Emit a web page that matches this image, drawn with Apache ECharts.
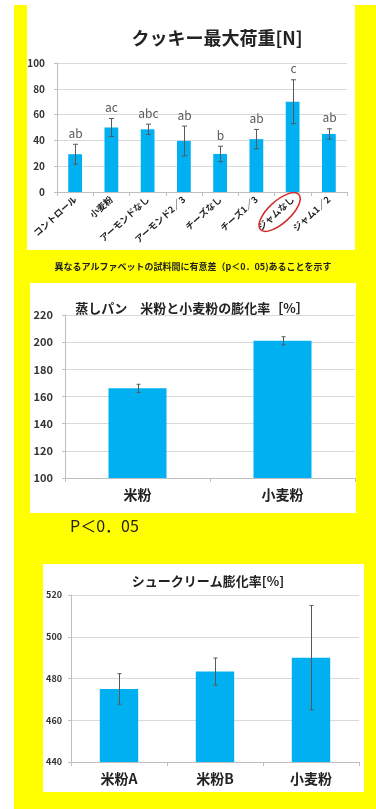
<!DOCTYPE html>
<html>
<head>
<meta charset="utf-8">
<script src="https://cdn.jsdelivr.net/npm/echarts@6/dist/echarts.min.js"></script>
<style>
html, body { margin: 0; padding: 0; background: #ffffff; }
#c { width: 376px; height: 809px; }
</style>
</head>
<body>
<div id="c"></div>
<script>
// クッキー最大荷重 [N]
const cookieCats = ['コントロール', '小麦粉', 'アーモンドなし', 'アーモンド2／3', 'チーズなし', 'チーズ1／3', 'ジャムなし', 'ジャム1／2'];
const cookieLoad = [29.3, 50, 48.6, 39.6, 29.5, 41, 70, 45];
const cookieErr = [7.7, 7, 4, 11.5, 6, 7.5, 17, 4];
const cookieGroups = ['ab', 'ac', 'abc', 'ab', 'b', 'ab', 'c', 'ab'];
const cookieTicks = [0, 20, 40, 60, 80, 100];

// 蒸しパン 膨化率 [%]
const panCats = ['米粉', '小麦粉'];
const panRate = [166, 201];
const panErr = [3, 3];
const panTicks = [100, 120, 140, 160, 180, 200, 220];

// シュークリーム 膨化率 [%]
const creamCats = ['米粉A', '米粉B', '小麦粉'];
const creamRate = [475, 483.3, 490];
const creamErr = [7.3, 6.5, 25];
const creamTicks = [440, 460, 480, 500, 520];

const FONT = '"Noto Sans CJK JP", "Noto Sans", sans-serif';
const BAR = '#00b0f0';
const GRID_LINE = '#d9d9d9';
const AXIS_LINE = '#bfbfbf';

function errorBars(axisIdx, values, errs, cap, letters) {
  return {
    type: 'custom',
    xAxisIndex: axisIdx,
    yAxisIndex: axisIdx,
    z: 5,
    silent: true,
    data: values.map((v, i) => [i, v - errs[i], v + errs[i]]),
    renderItem: (params, api) => {
      const hi = api.coord([api.value(0), api.value(2)]);
      const lo = api.coord([api.value(0), api.value(1)]);
      const x = Math.round(hi[0]) + 0.5;
      const st = { stroke: '#595959', lineWidth: 1 };
      const children = [
        { type: 'line', shape: { x1: x, y1: hi[1], x2: x, y2: lo[1] }, style: st },
        { type: 'line', shape: { x1: x - cap, y1: hi[1], x2: x + cap, y2: hi[1] }, style: st },
        { type: 'line', shape: { x1: x - cap, y1: lo[1], x2: x + cap, y2: lo[1] }, style: st }
      ];
      if (letters) {
        children.push({
          type: 'text',
          x: x,
          y: hi[1] - 5,
          style: {
            text: letters[params.dataIndex],
            align: 'center',
            verticalAlign: 'bottom',
            fill: '#595959',
            font: '12px ' + FONT
          }
        });
      }
      return { type: 'group', children: children };
    }
  };
}

function valueAxis(gridIndex, ticks, fontSize, margin) {
  return {
    type: 'value',
    gridIndex: gridIndex,
    min: ticks[0],
    max: ticks[ticks.length - 1],
    interval: ticks[1] - ticks[0],
    axisLine: { show: true, lineStyle: { color: AXIS_LINE } },
    axisTick: { show: true, length: 3, lineStyle: { color: AXIS_LINE } },
    splitLine: { show: true, lineStyle: { color: GRID_LINE } },
    axisLabel: { color: '#333', fontWeight: 'bold', fontSize: fontSize, fontFamily: FONT, margin: margin }
  };
}

function categoryAxis(gridIndex, cats, labelOpts) {
  return {
    type: 'category',
    gridIndex: gridIndex,
    data: cats,
    boundaryGap: true,
    axisLine: { show: true, lineStyle: { color: AXIS_LINE } },
    axisTick: { show: true, length: 4, lineStyle: { color: AXIS_LINE } },
    axisLabel: Object.assign({ interval: 0, color: '#222', fontWeight: 'bold', fontFamily: FONT }, labelOpts)
  };
}

const chart = echarts.init(document.getElementById('c'), null, { renderer: 'canvas' });

const option = {
  animation: false,
  backgroundColor: '#ffffff',
  graphic: [
    { type: 'rect', z: -10, shape: { x: 14, y: 5, width: 362, height: 804 }, style: { fill: '#ffff00' } },
    { type: 'rect', z: -9, shape: { x: 27, y: 0, width: 328, height: 250 }, style: { fill: '#ffffff' } },
    { type: 'rect', z: -9, shape: { x: 30, y: 283, width: 326, height: 230 }, style: { fill: '#ffffff' } },
    { type: 'rect', z: -9, shape: { x: 43, y: 564, width: 321, height: 228 }, style: { fill: '#ffffff' } },
    {
      type: 'text', x: 193, y: 267,
      style: {
        text: '異なるアルファベットの試料間に有意差（p＜0．05)あることを示す',
        align: 'center', verticalAlign: 'middle',
        fill: '#222', font: 'bold 9px ' + FONT
      }
    },
    {
      type: 'text', x: 70, y: 526,
      style: {
        text: 'P＜0．05',
        align: 'left', verticalAlign: 'middle',
        fill: '#222', font: '16px ' + FONT
      }
    }
  ],
  title: [
    {
      text: 'クッキー最大荷重[N]', left: 212, top: 24, textAlign: 'center',
      textStyle: { fontSize: 18, fontWeight: 'bold', color: '#222', fontFamily: FONT }
    },
    {
      text: '蒸しパン　米粉と小麦粉の膨化率［%］', left: 187, top: 297, textAlign: 'center',
      textStyle: { fontSize: 13, fontWeight: 'bold', color: '#222', fontFamily: FONT }
    },
    {
      text: 'シュークリーム膨化率[%]', left: 203, top: 570, textAlign: 'center',
      textStyle: { fontSize: 13, fontWeight: 'bold', color: '#222', fontFamily: FONT }
    }
  ],
  grid: [
    { left: 57, top: 63, width: 290, height: 129 },
    { left: 65, top: 315, width: 290, height: 163 },
    { left: 71, top: 595, width: 288, height: 167 }
  ],
  xAxis: [
    categoryAxis(0, cookieCats, { rotate: 42, fontSize: 9, margin: 6 }),
    categoryAxis(1, panCats, { fontSize: 14, margin: 10 }),
    categoryAxis(2, creamCats, { fontSize: 14, margin: 10 })
  ],
  yAxis: [
    valueAxis(0, cookieTicks, 10, 12),
    valueAxis(1, panTicks, 11, 12),
    valueAxis(2, creamTicks, 9, 9)
  ],
  series: [
    { type: 'bar', xAxisIndex: 0, yAxisIndex: 0, data: cookieLoad, barWidth: '38%', itemStyle: { color: BAR } },
    errorBars(0, cookieLoad, cookieErr, 2.5, cookieGroups),
    { type: 'bar', xAxisIndex: 1, yAxisIndex: 1, data: panRate, barWidth: '40%', itemStyle: { color: BAR } },
    errorBars(1, panRate, panErr, 2, null),
    { type: 'bar', xAxisIndex: 2, yAxisIndex: 2, data: creamRate, barWidth: '40%', itemStyle: { color: BAR } },
    errorBars(2, creamRate, creamErr, 2, null)
  ]
};

chart.setOption(option);

// red ring around the ジャムなし axis label
const base = chart.convertToPixel({ xAxisIndex: 0, yAxisIndex: 0 }, ['ジャムなし', 0]);
chart.setOption({
  graphic: option.graphic.concat([
    {
      type: 'ellipse',
      x: base[0] - 13,
      y: base[1] + 20,
      rotation: 0.74,
      shape: { cx: 0, cy: 0, rx: 26, ry: 11 },
      style: { fill: 'none', stroke: '#d02a2a', lineWidth: 1.5 },
      z: 10
    }
  ])
});
</script>
</body>
</html>
